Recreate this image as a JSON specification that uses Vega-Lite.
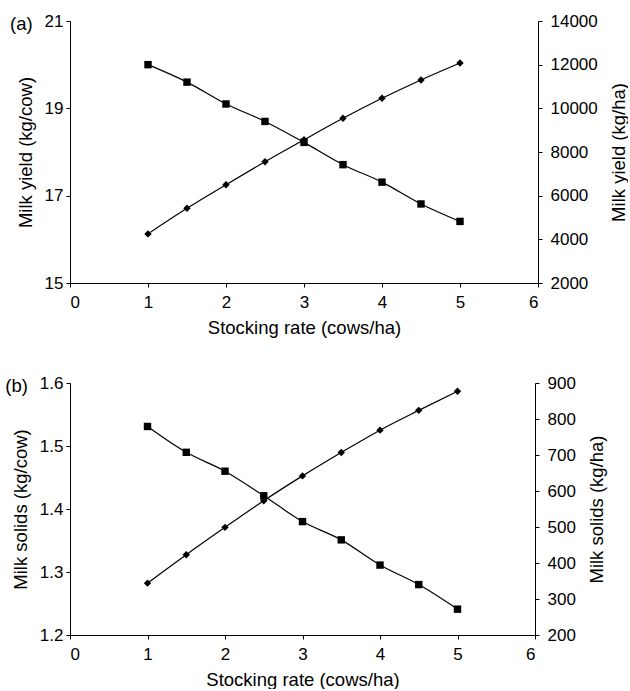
{
  "$schema": "https://vega.github.io/schema/vega-lite/v6.json",
  "padding": {"left": 5, "top": 12, "right": 0, "bottom": 0},
  "background": "white",
  "config": {
    "font": "Liberation Sans",
    "view": {"stroke": null},
    "axis": {
      "grid": false,
      "domainColor": "black",
      "tickColor": "black",
      "labelColor": "black",
      "titleColor": "black",
      "labelFontSize": 17,
      "titleFontSize": 18.5,
      "titleFontWeight": "normal",
      "tickSize": 4,
      "labelPadding": 3
    },
    "title": {"fontSize": 18.5, "fontWeight": "normal", "color": "black"}
  },
  "spacing": 37,
  "datasets": {
    "a": [
      {"rate": 1, "cow": 20.0, "ha": 4250},
      {"rate": 1.5, "cow": 19.6, "ha": 5420},
      {"rate": 2, "cow": 19.1, "ha": 6500},
      {"rate": 2.5, "cow": 18.7, "ha": 7555},
      {"rate": 3, "cow": 18.22, "ha": 8560},
      {"rate": 3.5, "cow": 17.71, "ha": 9545},
      {"rate": 4, "cow": 17.31, "ha": 10460},
      {"rate": 4.5, "cow": 16.81, "ha": 11300},
      {"rate": 5, "cow": 16.41, "ha": 12075}
    ],
    "b": [
      {"rate": 1, "cow": 1.531, "ha": 344},
      {"rate": 1.5, "cow": 1.49, "ha": 423},
      {"rate": 2, "cow": 1.46, "ha": 499},
      {"rate": 2.5, "cow": 1.421, "ha": 573},
      {"rate": 3, "cow": 1.38, "ha": 642},
      {"rate": 3.5, "cow": 1.351, "ha": 707},
      {"rate": 4, "cow": 1.311, "ha": 769},
      {"rate": 4.5, "cow": 1.28, "ha": 824},
      {"rate": 5, "cow": 1.241, "ha": 877}
    ]
  },
  "vconcat": [
    {
      "width": 468,
      "height": 262,
      "data": {"name": "a"},
      "title": {"text": "(a)", "anchor": "start", "frame": "bounds", "baseline": "middle", "offset": 0, "dx": -6, "dy": 30},
      "encoding": {
        "x": {"field": "rate", "type": "quantitative", "scale": {"domain": [0, 6]},
          "axis": {"values": [0, 1, 2, 3, 4, 5, 6], "title": "Stocking rate (cows/ha)", "labelPadding": 7, "titlePadding": 8}}
      },
      "layer": [
        {
          "mark": {"type": "line", "interpolate": "monotone", "color": "black", "strokeWidth": 1.2,
            "point": {"filled": true, "shape": "square", "size": 55, "color": "black"}},
          "encoding": {
            "y": {"field": "cow", "type": "quantitative", "scale": {"domain": [15, 21]},
              "axis": {"orient": "left", "values": [15, 17, 19, 21], "title": "Milk yield (kg/cow)", "titlePadding": 9}}
          }
        },
        {
          "mark": {"type": "line", "interpolate": "monotone", "color": "black", "strokeWidth": 1.2,
            "point": {"filled": true, "shape": "diamond", "size": 55, "color": "black"}},
          "encoding": {
            "y": {"field": "ha", "type": "quantitative", "scale": {"domain": [2000, 14000]},
              "axis": {"orient": "right", "values": [2000, 4000, 6000, 8000, 10000, 12000, 14000], "format": "d", "labelPadding": 8, "title": "Milk yield (kg/ha)", "titleAngle": 270, "titleBaseline": "top", "titlePadding": 12}}
          }
        }
      ],
      "resolve": {"scale": {"y": "independent"}}
    },
    {
      "width": 465,
      "height": 252,
      "data": {"name": "b"},
      "title": {"text": "(b)", "anchor": "start", "frame": "bounds", "baseline": "middle", "offset": 0, "dx": -6, "dy": 30},
      "encoding": {
        "x": {"field": "rate", "type": "quantitative", "scale": {"domain": [0, 6]},
          "axis": {"values": [0, 1, 2, 3, 4, 5, 6], "title": "Stocking rate (cows/ha)", "labelPadding": 7, "titlePadding": 8}}
      },
      "layer": [
        {
          "mark": {"type": "line", "interpolate": "monotone", "color": "black", "strokeWidth": 1.2,
            "point": {"filled": true, "shape": "square", "size": 55, "color": "black"}},
          "encoding": {
            "y": {"field": "cow", "type": "quantitative", "scale": {"domain": [1.2, 1.6]},
              "axis": {"orient": "left", "values": [1.2, 1.3, 1.4, 1.5, 1.6], "format": ".1f", "title": "Milk solids (kg/cow)", "titlePadding": 9}}
          }
        },
        {
          "mark": {"type": "line", "interpolate": "monotone", "color": "black", "strokeWidth": 1.2,
            "point": {"filled": true, "shape": "diamond", "size": 55, "color": "black"}},
          "encoding": {
            "y": {"field": "ha", "type": "quantitative", "scale": {"domain": [200, 900]},
              "axis": {"orient": "right", "values": [200, 300, 400, 500, 600, 700, 800, 900], "format": "d", "labelPadding": 8, "title": "Milk solids (kg/ha)", "titleAngle": 270, "titleBaseline": "top", "titlePadding": 12}}
          }
        }
      ],
      "resolve": {"scale": {"y": "independent"}}
    }
  ]
}
